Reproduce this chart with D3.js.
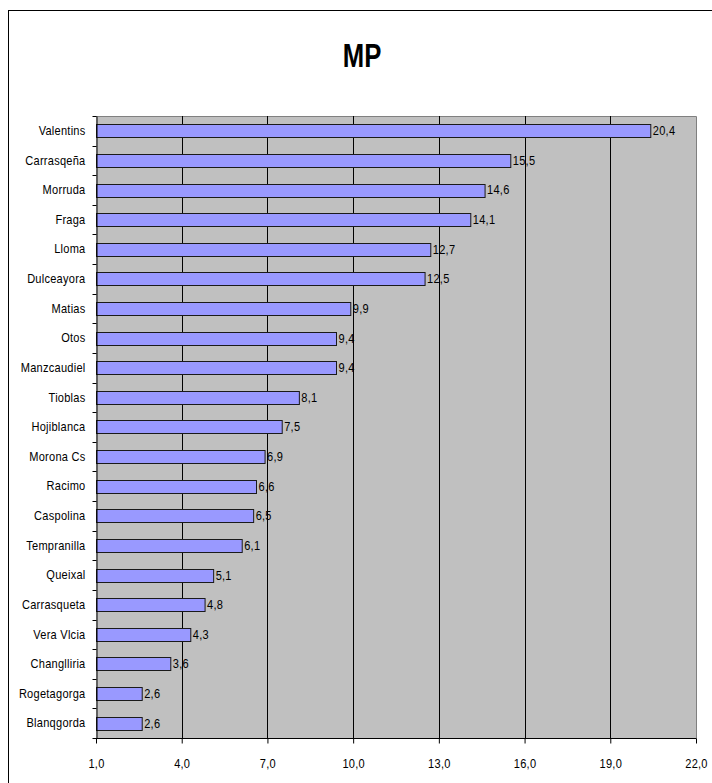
<!DOCTYPE html>
<html>
<head>
<meta charset="utf-8">
<script src="https://cdn.jsdelivr.net/npm/d3@7"></script>
<style>
  html, body { margin: 0; padding: 0; background: #fff; }
  svg { display: block; }
  text { font-family: "Liberation Sans", Arial, sans-serif; fill: #000; }
</style>
</head>
<body>
<svg id="chart" width="712" height="783"></svg>
<script>
// Varieties, top to bottom
const categories = [
  "Valentins", "Carrasqeña", "Morruda", "Fraga", "Lloma", "Dulceayora",
  "Matias", "Otos", "Manzcaudiel", "Tioblas", "Hojiblanca", "Morona Cs",
  "Racimo", "Caspolina", "Tempranilla", "Queixal", "Carrasqueta",
  "Vera Vlcia", "Changlliria", "Rogetagorga", "Blanqgorda"
];
const values = [
  20.4, 15.5, 14.6, 14.1, 12.7, 12.5,
  9.9, 9.4, 9.4, 8.1, 7.5, 6.9,
  6.6, 6.5, 6.1, 5.1, 4.8,
  4.3, 3.6, 2.6, 2.6
];
const xTicks = [1, 4, 7, 10, 13, 16, 19, 22];
const title = "MP";

const data = categories.map((c, i) => ({ name: c, value: values[i] }));
const fmt = v => d3.format(".1f")(v).replace(".", ",");
const SX = 0.85; // horizontal squeeze for the small labels

const svg = d3.select("#chart");

// Chart frame
svg.append("rect")
  .attr("x", 8.5).attr("y", 10.5)
  .attr("width", 720).attr("height", 800)
  .attr("fill", "#fff").attr("stroke", "#000").attr("stroke-width", 1);

const plot = { left: 96, top: 116, right: 696, bottom: 738 };

const x = d3.scaleLinear().domain([1, 22]).range([plot.left, plot.right]);
const y = d3.scaleBand().domain(categories).range([plot.top, plot.bottom]).paddingInner(0.56).paddingOuter(0.28);
const yb = d3.scaleBand().domain(categories).range([plot.top, plot.bottom]);

// Plot background
svg.append("rect")
  .attr("x", plot.left).attr("y", plot.top)
  .attr("width", plot.right - plot.left).attr("height", plot.bottom - plot.top)
  .attr("fill", "#C0C0C0");

// Border (top and right in gray)
svg.append("path")
  .attr("d", `M${plot.left},${plot.top + 0.5}H${plot.right + 0.5}V${plot.bottom}`)
  .attr("fill", "none").attr("stroke", "#808080").attr("stroke-width", 1);

// Vertical gridlines
svg.append("g").selectAll("line")
  .data(xTicks.slice(1, -1))
  .join("line")
  .attr("x1", d => Math.round(x(d)) + 0.5).attr("x2", d => Math.round(x(d)) + 0.5)
  .attr("y1", plot.top).attr("y2", plot.bottom)
  .attr("stroke", "#000").attr("stroke-width", 1);

// Bars
svg.append("g").selectAll("rect")
  .data(data)
  .join("rect")
  .attr("x", x(1) + 0.5)
  .attr("y", d => Math.round(y(d.name)) + 0.5)
  .attr("width", d => x(d.value) - x(1))
  .attr("height", Math.round(y.bandwidth()))
  .attr("fill", "#9999FF")
  .attr("stroke", "#1a1a1a").attr("stroke-width", 1);

// Value labels
svg.append("g").selectAll("text")
  .data(data)
  .join("text")
  .attr("transform", d => `translate(${x(d.value) + 2.5},${y(d.name) + y.bandwidth() / 2 + 1}) scale(${SX},1)`)
  .attr("dominant-baseline", "middle")
  .attr("font-size", "13px")
  .attr("letter-spacing", "0.3px")
  .text(d => fmt(d.value));

// Category axis
const yAxis = svg.append("g")
  .attr("transform", `translate(${plot.left + 0.5},0)`)
  .call(d3.axisLeft(yb).tickSize(0).tickPadding(0));
yAxis.select(".domain").attr("stroke", "#000");
yAxis.selectAll(".tick text")
  .attr("x", null)
  .attr("transform", `translate(-11,0) scale(${SX},1)`)
  .attr("font-size", "13px")
  .attr("font-family", "\"Liberation Sans\", Arial, sans-serif")
  .attr("letter-spacing", "0.3px")
  .attr("fill", "#000");
// Category separators as outward tick marks
yAxis.append("g").selectAll("line")
  .data(categories.map(c => yb(c)).concat([plot.bottom]))
  .join("line")
  .attr("x1", -4).attr("x2", 0)
  .attr("y1", d => Math.round(d) + 0.5).attr("y2", d => Math.round(d) + 0.5)
  .attr("stroke", "#000");

// Value axis
const xAxis = svg.append("g")
  .attr("transform", `translate(0,${plot.bottom + 0.5})`)
  .call(d3.axisBottom(x).tickValues(xTicks).tickFormat(fmt).tickSize(5).tickPadding(0));
xAxis.select(".domain").attr("stroke", "#000").attr("d", `M${plot.left},0H${plot.right + 0.5}`);
xAxis.selectAll(".tick line").attr("stroke", "#000");
xAxis.selectAll(".tick text")
  .attr("y", null).attr("dy", null)
  .attr("transform", `translate(0,29.5) scale(${SX},1)`)
  .attr("font-size", "13px")
  .attr("font-family", "\"Liberation Sans\", Arial, sans-serif")
  .attr("letter-spacing", "0.3px")
  .attr("fill", "#000");

// Title
svg.append("text")
  .attr("transform", "translate(362,67) scale(0.78,1)")
  .attr("text-anchor", "middle")
  .attr("font-size", "33px")
  .attr("font-weight", "bold")
  .text(title);
</script>
</body>
</html>
